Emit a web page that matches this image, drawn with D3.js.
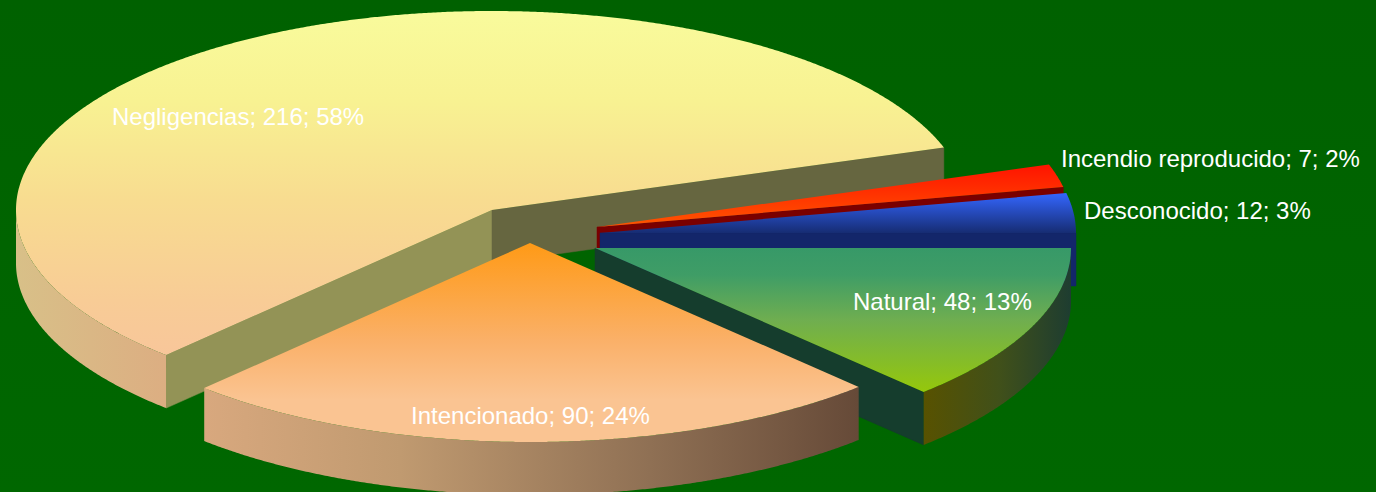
<!DOCTYPE html>
<html><head><meta charset="utf-8">
<script src="https://cdn.jsdelivr.net/npm/d3@7/dist/d3.min.js"></script>
<style>html,body{margin:0;padding:0;background:#006400;overflow:hidden}svg{display:block}text{font-family:"Liberation Sans",Arial,sans-serif;fill:#fff}</style>
</head><body><svg id="c" width="1376" height="492"></svg>
<script>
const categories = ["Natural","Intencionado","Negligencias","Incendio reproducido","Desconocido"];
const values = [48,90,216,7,12];
const percents = [13,24,58,2,3];
const apexX = [595,530,492,597,600];
const apexY = [248,243,210,227,233];
const labelX = [853,411,112,1061,1084];
const labelY = [310,424,125,167,219];
const RX = 476, RY = 199, DEPTH = 53;
const topStops = [
 [[248,"#379968"],[275,"#3f9d66"],[320,"#6fae50"],[393,"#96c80a"]],
 [[243,"#ff9a16"],[340,"#fab068"],[400,"#fac492"]],
 [[11,"#f9fb9c"],[100,"#f8f292"],[200,"#f8dc90"],[300,"#f8cc96"],[356,"#f8c69a"]],
 [[165,"#ff1400"],[227,"#ff5500"]],
 [[193,"#3466ff"],[236,"#142868"]]
];
const outerStops = [
 [[923,"#585200"],[1000,"#40501a"],[1070,"#1e3d30"]],
 [[204,"#d8a87e"],[400,"#c09a70"],[650,"#8f7054"],[858,"#664a38"]],
 [[16,"#d8c088"],[165,"#dcae82"]],
 [[0,"#7a0000"],[1,"#7a0000"]],
 [[0,"#13266a"],[1,"#13266a"]]
];
const startWall = [null,null,"#939356",null,null];
const endWall = ["#153d2d",null,"#666640","#7a0000","#13266a"];
const drawOrder = [2,3,4,0,1];

const svg = d3.select("#c");
const defs = svg.append("defs");
const bg = defs.append("linearGradient").attr("id","bg").attr("x1",0).attr("x2",0).attr("y1",0).attr("y2",1);
bg.append("stop").attr("offset",0).attr("stop-color","#006100");
bg.append("stop").attr("offset",1).attr("stop-color","#006700");
svg.append("rect").attr("width",1376).attr("height",492).attr("fill","url(#bg)");
const sx = d3.scaleLinear().domain([0,1]).range([0,RX]);
const sy = d3.scaleLinear().domain([0,1]).range([0,RY]);
const pie = d3.pie().value(d=>d).sort(null).startAngle(0).endAngle(2*Math.PI);
const arcs = pie(values);
const line = d3.line();
const steps = (a,b)=>{const n=Math.max(2,Math.ceil((b-a)/0.005));return d3.range(n+1).map(i=>a+(b-a)*i/n);};
const pt = (i,t,dy=0)=>[apexX[i]+sx(Math.cos(t)),apexY[i]+sy(Math.sin(t))+dy];
function grad(id,stops,horizontal){
  const g=defs.append("linearGradient").attr("id",id).attr("gradientUnits","userSpaceOnUse");
  const lo=stops[0][0],hi=stops[stops.length-1][0];
  if(horizontal) g.attr("x1",lo).attr("x2",hi).attr("y1",0).attr("y2",0);
  else g.attr("y1",lo).attr("y2",hi).attr("x1",0).attr("x2",0);
  stops.forEach(s=>g.append("stop").attr("offset",(s[0]-lo)/(hi-lo)).attr("stop-color",s[1]));
}
drawOrder.forEach(i=>{
  const a=arcs[i], t0=a.startAngle, t1=a.endAngle, gr=svg.append("g").attr("class","slice");
  grad("t"+i,topStops[i],false); grad("o"+i,outerStops[i],true);
  // side walls
  [[t0,startWall[i]],[t1,endWall[i]]].forEach(([t,c])=>{
    if(!c) return;
    gr.append("path").attr("fill",c).attr("stroke",c).attr("stroke-width",0.5)
      .attr("d",line([[apexX[i],apexY[i]],pt(i,t),pt(i,t,DEPTH),[apexX[i],apexY[i]+DEPTH]])+"Z");
  });
  // outer rim, only the part turned to the viewer
  const lo=Math.max(t0,0), hi=Math.min(t1,Math.PI);
  if(hi>lo){
    const ts=steps(lo,hi);
    gr.append("path").attr("fill",`url(#o${i})`)
      .attr("d",line(ts.map(t=>pt(i,t)).concat(ts.slice().reverse().map(t=>pt(i,t,DEPTH))))+"Z");
  }
  // top face
  gr.append("path").attr("fill",`url(#t${i})`)
    .attr("d",line([[apexX[i],apexY[i]]].concat(steps(t0,t1).map(t=>pt(i,t))))+"Z");
});
svg.selectAll("text.lbl").data(categories).join("text").attr("class","lbl")
  .attr("x",(d,i)=>labelX[i]).attr("y",(d,i)=>labelY[i]).attr("font-size",24)
  .text((d,i)=>`${d}; ${values[i]}; ${percents[i]}%`);
</script></body></html>
